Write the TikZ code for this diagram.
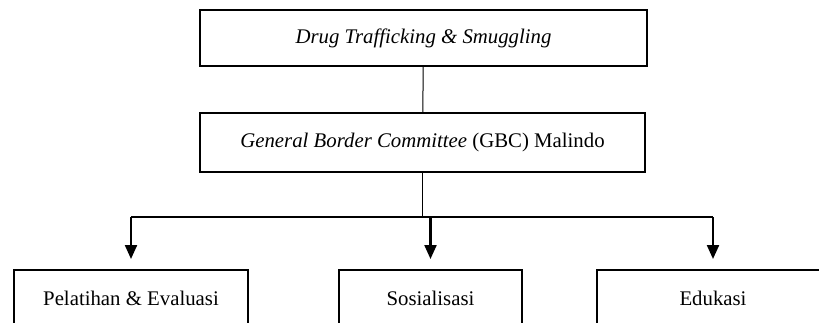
\documentclass[tikz,border=0pt]{standalone}
\usepackage{fontspec}
\setmainfont{Liberation Serif}
\usetikzlibrary{arrows.meta,positioning}
\tikzset{
  bbox/.style={draw, line width=2pt, inner sep=0pt, font=\fontsize{20.8}{24}\selectfont},
  lnk/.style={line width=1pt},
  bar/.style={line width=1.6pt},
  darr/.style={-{Triangle[width=12pt,length=14pt]}, line width=2.2pt, shorten >=10pt},
}
\begin{document}
\begin{tikzpicture}[x=1pt,y=1pt]
\clip (0,0) rectangle (819,322);
\useasboundingbox (0,0) rectangle (819,322);
% boxes
\node[bbox, minimum width=447pt, minimum height=56pt] (drug) at (423.5,284)
  {\itshape Drug Trafficking \& Smuggling};
\node[bbox, minimum width=445pt, minimum height=59pt] (gbc) at (422.5,179.5)
  {\textit{General Border Committee} (GBC) Malindo};
\node[bbox, minimum width=234pt, minimum height=56pt] (latih) at (131,24) {Pelatihan \& Evaluasi};
\node[bbox, minimum width=183pt, minimum height=56pt] (sosial) at (430.5,24) {Sosialisasi};
\node[bbox, minimum width=232pt, minimum height=56pt] (edu) at (713,24) {Edukasi};
% junctions
\coordinate (jm) at (gbc.south |- 0,105);
\coordinate (jl) at (latih.north |- jm);
\coordinate (jc) at (sosial.north |- jm);
\coordinate (jr) at (edu.north |- jm);
% connectors
\draw[lnk] (drug) -- (gbc);
\draw[lnk] (gbc) -- (jm);
\draw[bar] (jl) -- (jr);
\draw[darr] (jl) -- (latih.north);
\draw[darr] (jc) -- (sosial.north);
\draw[darr] (jr) -- (edu.north);
\end{tikzpicture}
\end{document}
